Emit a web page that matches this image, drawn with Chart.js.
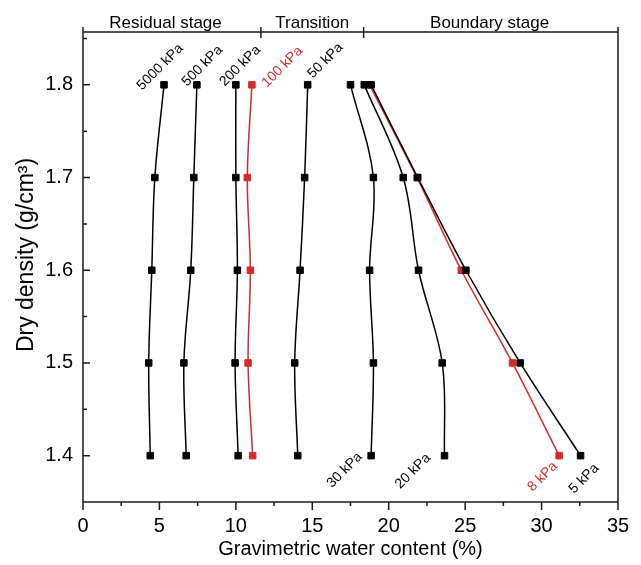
<!DOCTYPE html>
<html>
<head>
<meta charset="utf-8">
<script src="https://cdn.jsdelivr.net/npm/chart.js@4.4.1/dist/chart.umd.min.js"></script>
<style>
  body { margin: 0; background: #fff; }
  #chart { display: block; }
</style>
</head>
<body>
<canvas id="chart" width="641" height="565"></canvas>
<script>
// dry density levels (g/cm3), one point per level on every curve
const densities = [1.8, 1.7, 1.6, 1.5, 1.4];

// gravimetric water content (%) at each density, per suction
const w5000 = [5.3, 4.7, 4.5, 4.3, 4.4];
const w500 = [7.45, 7.25, 7.05, 6.6, 6.75];
const w200 = [10.0, 10.0, 10.1, 9.95, 10.15];
const w100 = [11.05, 10.75, 10.95, 10.8, 11.1];
const w50 = [14.7, 14.5, 14.2, 13.85, 14.05];
const w30 = [17.5, 19.0, 18.75, 19.0, 18.85];
const w20 = [18.4, 20.95, 21.95, 23.5, 23.65];
const w5 = [18.85, 21.9, 25.05, 28.6, 32.55];
const w8 = [18.75, 21.85, 24.75, 28.1, 31.15];

const xTicks = [0, 5, 10, 15, 20, 25, 30, 35];
const yTicks = [1.4, 1.5, 1.6, 1.7, 1.8];

// stage boundaries on the top bar (water content %)
const stageBounds = [0, 11.64, 18.36, 35];
const stageNames = ['Residual stage', 'Transition', 'Boundary stage'];
const stageLabelAt = [5.4, 15.0, 26.6];

const BLACK = '#000000';
const RED = '#d62a2a';
const FONT = "'Liberation Sans', Arial, sans-serif";

// label text, colour, which end of the curve it sits at, how it is anchored, pixel nudge
const series = [
  { label: '5000 kPa', data: w5000, color: BLACK, end: 'top', align: 'left', dx: -22, dy: 6 },
  { label: '500 kPa', data: w500, color: BLACK, end: 'top', align: 'left', dx: -10, dy: 2 },
  { label: '200 kPa', data: w200, color: BLACK, end: 'top', align: 'left', dx: -11, dy: 2 },
  { label: '100 kPa', data: w100, color: RED, end: 'top', align: 'left', dx: 15, dy: 3 },
  { label: '50 kPa', data: w50, color: BLACK, end: 'top', align: 'left', dx: 5, dy: -6 },
  { label: '30 kPa', data: w30, color: BLACK, end: 'bottom', align: 'center', dx: -26.5, dy: 14.5 },
  { label: '20 kPa', data: w20, color: BLACK, end: 'bottom', align: 'center', dx: -31.5, dy: 15.5 },
  { label: '5 kPa', data: w5, color: BLACK, end: 'bottom', align: 'center', dx: 3.5, dy: 23 },
  { label: '8 kPa', data: w8, color: RED, end: 'bottom', align: 'center', dx: -16.5, dy: 21 }
];

const datasets = series.map(function(s) {
  return {
    label: s.label,
    data: s.data.map(function(w, i) { return { x: w, y: densities[i] }; }),
    showLine: true,
    tension: 0.35,
    borderColor: s.color,
    backgroundColor: s.color,
    borderWidth: 1.5,
    pointStyle: 'rect',
    pointRadius: 4.6,
    pointBorderWidth: 1,
    pointBorderColor: s.color,
    pointBackgroundColor: s.color
  };
});

const frame = {
  id: 'frame',
  beforeDatasetsDraw(chart) {
    const ctx = chart.ctx;
    const a = chart.chartArea;
    const xs = chart.scales.x;
    const ys = chart.scales.y;
    ctx.save();
    ctx.strokeStyle = '#1a1a1a';
    ctx.lineWidth = 1.5;
    ctx.beginPath();
    // left, bottom, right
    ctx.moveTo(a.left, a.top - 5);
    ctx.lineTo(a.left, a.bottom);
    ctx.lineTo(a.right, a.bottom);
    ctx.lineTo(a.right, a.top);
    // top stage bar
    ctx.moveTo(a.left, a.top);
    ctx.lineTo(a.right, a.top);
    stageBounds.forEach(function(v) {
      const px = xs.getPixelForValue(v);
      ctx.moveTo(px, a.top - 5);
      ctx.lineTo(px, a.top + 6);
    });
    // x ticks, outward
    for (let v = 0; v <= 35; v += 2.5) {
      const px = xs.getPixelForValue(v);
      const major = xTicks.indexOf(v) >= 0;
      ctx.moveTo(px, a.bottom);
      ctx.lineTo(px, a.bottom + (major ? 8 : 4));
    }
    // y ticks, inward
    for (let k = 0; k <= 10; k++) {
      const v = 1.35 + k * 0.05;
      const py = ys.getPixelForValue(v);
      const major = k % 2 === 1;
      ctx.moveTo(a.left, py);
      ctx.lineTo(a.left + (major ? 7 : 4), py);
    }
    ctx.stroke();

    ctx.fillStyle = '#000';
    ctx.font = '17px ' + FONT;
    ctx.textAlign = 'center';
    ctx.textBaseline = 'alphabetic';
    stageNames.forEach(function(name, i) {
      ctx.fillText(name, xs.getPixelForValue(stageLabelAt[i]), a.top - 4);
    });

    // y axis title
    ctx.save();
    ctx.translate(27, 255);
    ctx.rotate(-Math.PI / 2);
    ctx.font = '23px ' + FONT;
    ctx.textBaseline = 'middle';
    ctx.fillText('Dry density (g/cm³)', 0, 0);
    ctx.restore();
    ctx.restore();
  },
  afterDatasetsDraw(chart) {
    const ctx = chart.ctx;
    const xs = chart.scales.x;
    const ys = chart.scales.y;
    ctx.save();
    ctx.font = '14px ' + FONT;
    series.forEach(function(s) {
      const i = s.end === 'top' ? 0 : densities.length - 1;
      const px = xs.getPixelForValue(s.data[i]);
      const py = ys.getPixelForValue(densities[i]);
      ctx.save();
      ctx.translate(px + s.dx, py + s.dy);
      ctx.rotate(-Math.PI / 4);
      ctx.fillStyle = s.color;
      ctx.textAlign = s.align;
      ctx.textBaseline = s.align === 'left' ? 'alphabetic' : 'middle';
      ctx.fillText(s.label, 0, 0);
      ctx.restore();
    });
    ctx.restore();
  }
};

new Chart(document.getElementById('chart'), {
  type: 'scatter',
  data: { datasets: datasets },
  options: {
    responsive: false,
    animation: false,
    layout: { padding: { top: 32, right: 23, left: 0, bottom: 0 } },
    plugins: { legend: { display: false }, tooltip: { enabled: false } },
    scales: {
      x: {
        type: 'linear',
        min: 0,
        max: 35,
        grid: { display: false, drawTicks: false },
        border: { display: false },
        afterBuildTicks: function(s) { s.ticks = xTicks.map(function(v) { return { value: v }; }); },
        afterFit: function(s) { s.height = 63; s.paddingLeft = 0; s.paddingRight = 0; },
        ticks: { color: '#000', padding: 12, font: { family: FONT, size: 20 } },
        title: {
          display: true,
          text: 'Gravimetric water content (%)',
          color: '#000',
          font: { family: FONT, size: 20 },
          padding: { top: 0, bottom: 4 }
        }
      },
      y: {
        type: 'linear',
        min: 1.35,
        max: 1.857,
        grid: { display: false, drawTicks: false },
        border: { display: false },
        afterBuildTicks: function(s) { s.ticks = yTicks.map(function(v) { return { value: v }; }); },
        afterFit: function(s) { s.width = 83; s.paddingTop = 0; s.paddingBottom = 0; },
        ticks: {
          color: '#000',
          padding: 10,
          font: { family: FONT, size: 20 },
          callback: function(v) { return v.toFixed(1); }
        }
      }
    }
  },
  plugins: [frame]
});
</script>
</body>
</html>
